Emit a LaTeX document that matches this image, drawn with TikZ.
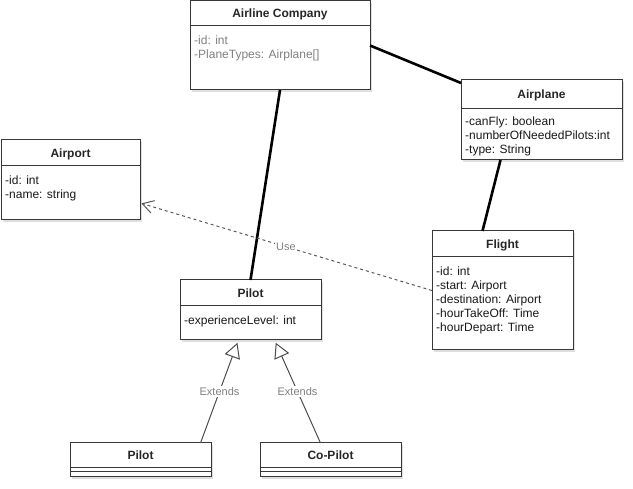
\documentclass[tikz,border=0pt]{standalone}
\usepackage{fontspec}
\setmainfont{Liberation Sans}
\usetikzlibrary{arrows.meta,fit,shadows}

\begin{document}
\begin{tikzpicture}[x=1pt,y=-1pt]
    \tikzset{cls/.style={draw=black!78, line width=1pt, fill=white, inner sep=0pt, outer sep=0pt,
            drop shadow={shadow xshift=2pt, shadow yshift=-2pt, opacity=.25}},
        sep/.style={draw=black!78, line width=1pt},
        head/.style={anchor=base, font=\fontsize{12}{14}\selectfont\bfseries, text=black!85},
        attr/.style={anchor=north west, inner sep=0pt, align=left, font=\fontsize{12}{14}\selectfont, text=black!90},
        assoc/.style={line width=2.6pt, draw=black},
        use/.style={draw=black!65, line width=1pt, dash pattern=on 3pt off 3pt,
            -{Straight Barb[length=11pt, width=13pt]}, shorten >=1.5pt},
        ext/.style={draw=black!70, line width=1pt, -{Triangle[open, length=15pt, width=16pt]}, shorten >=3pt},
        lbl/.style={fill=white, inner sep=1pt, text=black!50, font=\fontsize{11}{13}\selectfont}}
    \useasboundingbox (0,0) rectangle (633,489);

    %Airline Company
    \node[cls, fit={(190,1) (370,90)}] (company) {};
    \draw[sep] (190,26) -- (370,26);
    \node[head] (companyTitle) at (280,17.8) {Airline Company};
    \node[attr, text=black!50] (companyAttr) at (194,35.5) {-id: int\\-PlaneTypes: Airplane[]};

    %Airport
    \node[cls, fit={(1,140) (140,220)}] (airport) {};
    \draw[sep] (1,166) -- (140,166);
    \node[head] (airportTitle) at (70.5,157.3) {Airport};
    \node[attr] (airportAttr) at (5,175.5) {-id: int\\-name: string};

    %Airplane
    \node[cls, fit={(461,80) (622,160)}] (airplane) {};
    \draw[sep] (461,109) -- (622,109);
    \node[head] (airplaneTitle) at (541.5,98.8) {Airplane};
    \node[attr] (airplaneAttr) at (465,116.5) {-canFly: boolean\\-numberOfNeededPilots:int\\-type: String};

    %Flight
    \node[cls, fit={(432,231) (573,350)}] (flight) {};
    \draw[sep] (432,257) -- (573,257);
    \node[head] (flightTitle) at (502.5,248.3) {Flight};
    \node[attr] (flightAttr) at (436,266.5) {-id: int\\-start: Airport\\-destination: Airport\\-hourTakeOff: Time\\-hourDepart: Time};

    %Pilot
    \node[cls, fit={(180,280) (321,340)}] (pilot) {};
    \draw[sep] (180,306) -- (321,306);
    \node[head] (pilotTitle) at (250.5,297.3) {Pilot};
    \node[attr] (pilotAttr) at (184,315.5) {-experienceLevel: int};

    %Unterklassen
    \node[cls, fit={(70,443) (211,477)}] (pilotChild) {};
    \draw[sep] (70,468) -- (211,468);
    \draw[sep] (70,472) -- (211,472);
    \node[head] (pilotChildTitle) at (140.5,459.8) {Pilot};
    \node[cls, fit={(260,443) (401,477)}] (coPilot) {};
    \draw[sep] (260,468) -- (401,468);
    \draw[sep] (260,472) -- (401,472);
    \node[head] (coPilotTitle) at (330.5,459.8) {Co-Pilot};

    %Verbindungen
    \draw[assoc] (company.east) -- ([yshift=-3pt]airplane.north west);
    \draw[assoc] (company.south) -- (pilot.north);
    \draw[assoc] ([xshift=-41pt]airplane.south) -- ([xshift=-20pt]flight.north);
    \draw[use] (flight.west) -- node[lbl] {Use} ([yshift=-23pt]airport.east);
    \draw[ext] ([xshift=60pt]pilotChild.north) -- node[lbl] {Extends} ([xshift=-12pt]pilot.south);
    \draw[ext] ([xshift=-10pt]coPilot.north) -- node[lbl] {Extends} ([xshift=24pt]pilot.south);
\end{tikzpicture}
\end{document}
